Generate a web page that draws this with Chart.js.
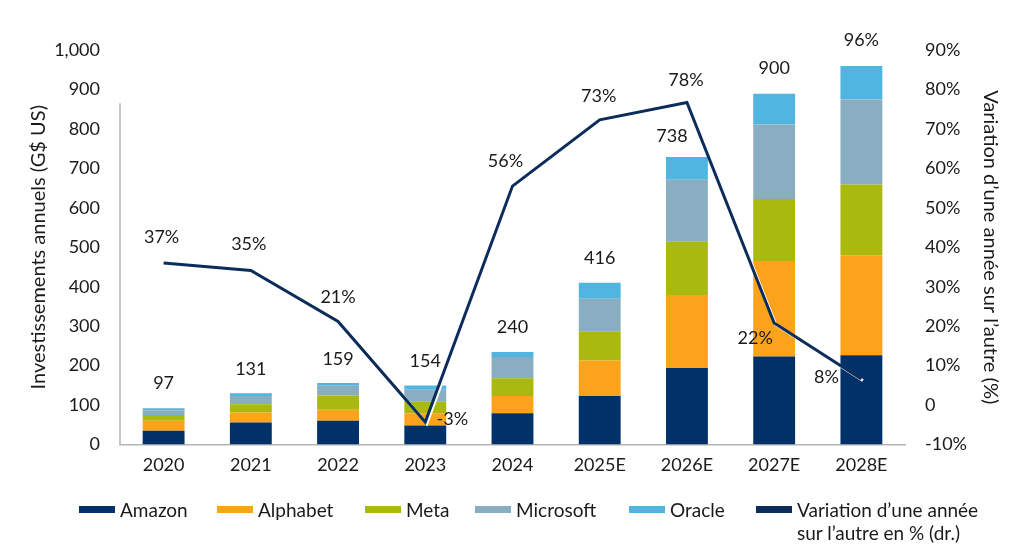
<!DOCTYPE html>
<html>
<head>
<meta charset="utf-8">
<script src="https://cdn.jsdelivr.net/npm/chart.js@4"></script>
<style>
    html, body { margin: 0; padding: 0; background: #fff; }
    #wrap { position: relative; width: 1024px; height: 554px; font-family: Lato, sans-serif; color: #1a1a1a; }
    #legend { position: absolute; left: 0; top: 498px; width: 1024px; height: 50px; }
    .item { position: absolute; top: 0; display: flex; align-items: flex-start; font-size: 19px; line-height: 23px; }
    .swatch { width: 36px; height: 7px; margin-top: 8px; margin-right: 5px; }
</style>
</head>
<body>
<div id="wrap">
    <canvas id="capexChart" width="1024" height="554"></canvas>
    <div id="legend"></div>
</div>
<script>
const years = ['2020', '2021', '2022', '2023', '2024', '2025E', '2026E', '2027E', '2028E'];
const amazon    = [35, 55.5, 60, 48, 79, 123, 194, 223, 226];
const alphabet  = [25, 25.5, 28, 31, 44, 90, 185, 242, 254];
const meta      = [15, 21, 36, 29.5, 45, 74, 135, 157, 179];
const microsoft = [11, 21, 25, 30, 53.5, 82.5, 157, 189, 215.5];
const oracle    = [6, 7, 7, 11, 13, 40.5, 58, 78, 85];
const yoyChange = [36.0, 34.1, 21.2, -4.3, 55.5, 72.3, 76.7, 20.8, 6.6];

const totalLabels  = ['97', '131', '159', '154', '240', '416', '738', '900', '96%'];
const changeLabels = ['37%', '35%', '21%', '-3%', '56%', '73%', '78%', '22%', '8%'];

const COLORS = {
    amazon: '#003168',
    alphabet: '#fba31a',
    meta: '#a9b90e',
    microsoft: '#8aaec1',
    oracle: '#50b5e0',
    line: '#0c2d5c'
};

// label offsets (px) relative to the bar top / line point
const totalOffsets  = [[0, -25], [0, -24], [0, -24], [0, -24], [0, -25], [0, -25], [-15, -21], [0, -26], [0, -26]];
const changeOffsets = [[-2, -26], [-2, -26], [0, -24], [27, -3], [-7, -25], [-1, -24], [-1, -22], [-19, 15], [-35, -2]];

const labelsPlugin = {
    id: 'valueLabels',
    beforeDatasetDraw(chart, args) {
        if (args.meta.type === 'line') {
            const ctx = chart.ctx;
            ctx.save();
            ctx.shadowColor = '#ffffff';
            ctx.shadowOffsetX = 1.5;
            ctx.shadowOffsetY = 1.5;
            ctx.shadowBlur = 0;
        }
    },
    afterDatasetDraw(chart, args) {
        if (args.meta.type === 'line') chart.ctx.restore();
    },
    afterDatasetsDraw(chart) {
        const ctx = chart.ctx;
        const topBars = chart.getDatasetMeta(4).data;
        const points = chart.getDatasetMeta(5).data;
        ctx.save();
        ctx.font = '18px Lato';
        ctx.fillStyle = '#1a1a1a';
        ctx.textAlign = 'center';
        ctx.textBaseline = 'middle';
        topBars.forEach((bar, i) => {
            ctx.fillText(totalLabels[i], bar.x + totalOffsets[i][0], bar.y + totalOffsets[i][1]);
        });
        points.forEach((pt, i) => {
            ctx.fillText(changeLabels[i], pt.x + changeOffsets[i][0], pt.y + changeOffsets[i][1]);
        });

        // short left axis line, as in the source
        const y = chart.scales.y;
        ctx.strokeStyle = '#b5b5b5';
        ctx.lineWidth = 1.5;
        ctx.beginPath();
        ctx.moveTo(y.right, y.getPixelForValue(865));
        ctx.lineTo(y.right, y.getPixelForValue(0));
        ctx.stroke();
        ctx.restore();
    }
};

const barSet = (label, data, color) => ({
    type: 'bar',
    label: label,
    data: data,
    backgroundColor: color,
    borderWidth: 0,
    barPercentage: 0.48,
    categoryPercentage: 1,
    yAxisID: 'y',
    order: 1
});

new Chart(document.getElementById('capexChart'), {
    data: {
        labels: years,
        datasets: [
            barSet('Amazon', amazon, COLORS.amazon),
            barSet('Alphabet', alphabet, COLORS.alphabet),
            barSet('Meta', meta, COLORS.meta),
            barSet('Microsoft', microsoft, COLORS.microsoft),
            barSet('Oracle', oracle, COLORS.oracle),
            {
                type: 'line',
                label: 'Variation d’une année sur l’autre en % (dr.)',
                data: yoyChange,
                borderColor: COLORS.line,
                borderWidth: 3,
                pointRadius: 0,
                tension: 0,
                yAxisID: 'y1',
                order: 0
            }
        ]
    },
    options: {
        responsive: false,
        animation: false,
        layout: { padding: { top: 50, left: 0, right: 0, bottom: 0 } },
        plugins: {
            legend: { display: false },
            tooltip: { enabled: false }
        },
        scales: {
            x: {
                stacked: true,
                grid: { display: false, drawTicks: false },
                border: { display: true, color: '#b5b5b5', width: 1.5 },
                ticks: { color: '#1a1a1a', font: { family: 'Lato', size: 18 }, padding: 10, maxRotation: 0 },
                afterFit: (s) => { s.height = 109.5; }
            },
            y: {
                stacked: true,
                position: 'left',
                min: 0,
                max: 1000,
                grid: { display: false, drawTicks: false },
                border: { display: false },
                ticks: {
                    stepSize: 100,
                    color: '#1a1a1a',
                    font: { family: 'Lato', size: 18 },
                    padding: 20,
                    callback: (v) => v.toLocaleString('en-US')
                },
                title: {
                    display: true,
                    text: 'Investissements annuels (G$ US)',
                    color: '#1a1a1a',
                    font: { family: 'Lato', size: 20 },
                    padding: { top: 27, bottom: 0 }
                },
                afterFit: (s) => { s.width = 120; }
            },
            y1: {
                position: 'right',
                min: -10,
                max: 90,
                grid: { display: false, drawTicks: false },
                border: { display: false },
                ticks: {
                    stepSize: 10,
                    color: '#1a1a1a',
                    font: { family: 'Lato', size: 18 },
                    padding: 20,
                    callback: (v) => v === 0 ? '0' : v + '%'
                },
                title: {
                    display: true,
                    text: 'Variation d’une année sur l’autre (%)',
                    color: '#1a1a1a',
                    font: { family: 'Lato', size: 20 },
                    padding: { top: 22, bottom: 0 }
                },
                afterFit: (s) => { s.width = 119; }
            }
        }
    },
    plugins: [labelsPlugin]
});

// legend
const legendItems = [
    { text: 'Amazon', color: COLORS.amazon, left: 79 },
    { text: 'Alphabet', color: COLORS.alphabet, left: 217 },
    { text: 'Meta', color: COLORS.meta, left: 365 },
    { text: 'Microsoft', color: COLORS.microsoft, left: 475 },
    { text: 'Oracle', color: COLORS.oracle, left: 629 },
    { text: 'Variation d’une année<br>sur l’autre en % (dr.)', color: COLORS.line, left: 756 }
];
document.getElementById('legend').innerHTML = legendItems.map(it => `
    <div class="item" style="left:${it.left}px">
        <span class="swatch" style="background:${it.color}"></span>
        <span>${it.text}</span>
    </div>`).join('');
</script>
</body>
</html>
